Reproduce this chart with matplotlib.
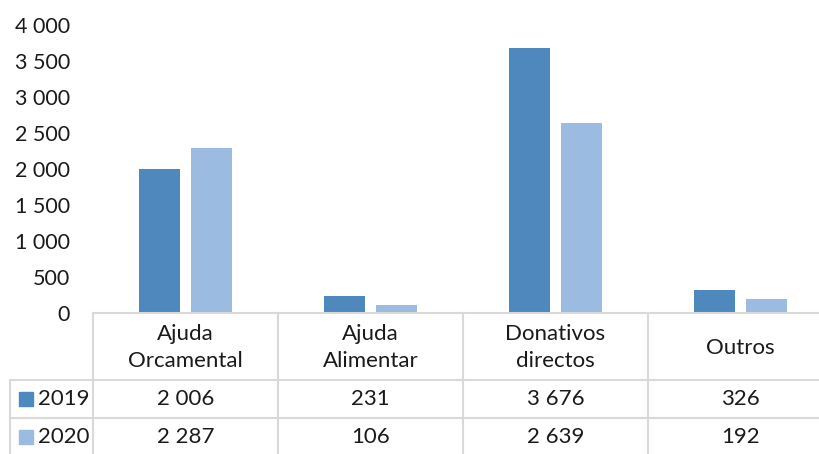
import matplotlib.pyplot as plt
import matplotlib.transforms as mtransforms
from matplotlib.patches import Rectangle
import numpy as np

plt.rcParams['font.family'] = ['Lato', 'DejaVu Sans']

categorias = ['Ajuda\nOrcamental', 'Ajuda\nAlimentar', 'Donativos\ndirectos', 'Outros']
anos = ['2019', '2020']
v2019 = [2006, 231, 3676, 326]
v2020 = [2287, 106, 2639, 192]
cores = ['#4f88bd', '#9bbbe1']
grelha = '#d9d9d9'
fs = 16


def fmt(v):
    return '{:,}'.format(int(v)).replace(',', ' ')


W, H = 819, 454
fig = plt.figure(figsize=(W / 100, H / 100), dpi=100)
# axes run past the right edge, as in the reference crop
ax = fig.add_axes([93 / W, 141 / H, 740 / W, 288 / H])

x = np.arange(len(categorias))
largura = 0.222
ax.bar(x - 0.143, v2019, largura, color=cores[0])
ax.bar(x + 0.143, v2020, largura, color=cores[1])

ax.set_xlim(-0.5, len(categorias) - 0.5)
ax.set_ylim(0, 4000)
ax.set_yticks(np.arange(0, 4001, 500))
ax.set_yticklabels([fmt(t) for t in np.arange(0, 4001, 500)], fontsize=fs - 0.5, color='#1a1a1a')
ax.tick_params(axis='y', length=0, pad=16.5)
ax.set_xticks([])
for s in ax.spines.values():
    s.set_visible(False)

# table below the plot
trans = mtransforms.blended_transform_factory(ax.transData, fig.transFigure)
ftrans = fig.transFigure


def fy(py):
    return 1 - py / H


y_top, y_r1, y_r2, y_bot = 313, 380, 418, 456
lw = 1.5
fig.add_artist(plt.Line2D([93 / W, 1], [fy(y_top)] * 2, color=grelha, lw=lw, transform=ftrans))
for yy in (y_r1, y_r2):
    fig.add_artist(plt.Line2D([10 / W, 1], [fy(yy)] * 2, color=grelha, lw=lw, transform=ftrans))
fig.add_artist(plt.Line2D([10 / W] * 2, [fy(y_r1), fy(y_bot)], color=grelha, lw=lw, transform=ftrans))
for b in np.arange(-0.5, len(categorias), 1.0):
    ax.add_artist(plt.Line2D([b, b], [fy(y_top), fy(y_bot)], color=grelha, lw=lw,
                             transform=trans, clip_on=False))

for i, c in enumerate(categorias):
    ax.text(i, fy((y_top + y_r1) / 2 + 1), c, transform=trans, ha='center', va='center',
            fontsize=fs, color='#1a1a1a', linespacing=1.4, clip_on=False)
    ax.text(i, fy((y_r1 + y_r2) / 2), fmt(v2019[i]), transform=trans, ha='center',
            va='center', fontsize=fs, color='#1a1a1a', clip_on=False)
    ax.text(i, fy((y_r2 + y_bot) / 2), fmt(v2020[i]), transform=trans, ha='center',
            va='center', fontsize=fs, color='#1a1a1a', clip_on=False)

for k, (ano, cor) in enumerate(zip(anos, cores)):
    yc = (y_r1 + y_r2) / 2 if k == 0 else (y_r2 + y_bot) / 2
    fig.add_artist(Rectangle((19 / W, fy(yc + 7)), 14 / W, 14 / H, color=cor, transform=ftrans))
    fig.text(38 / W, fy(yc), ano, ha='left', va='center', fontsize=fs, color='#1a1a1a')

fig.savefig('out.png', dpi=100)
